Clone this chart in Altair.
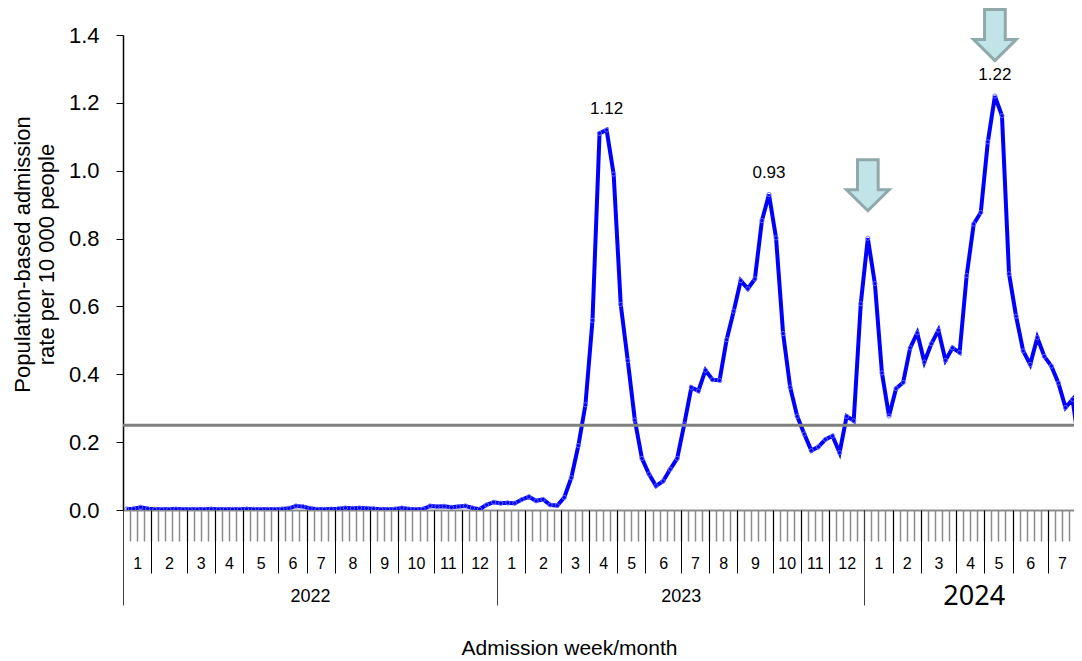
import json
import altair as alt
import pandas as pd

# ---------------- data ----------------
rate_2022 = [0.003, 0.004, 0.008, 0.004, 0.002, 0.002, 0.002, 0.003, 0.002, 0.002,
             0.002, 0.002, 0.003, 0.002, 0.002, 0.002, 0.002, 0.003, 0.002, 0.002,
             0.002, 0.002, 0.003, 0.005, 0.012, 0.010, 0.005, 0.002, 0.002, 0.003,
             0.004, 0.006, 0.005, 0.006, 0.005, 0.004, 0.002, 0.002, 0.003, 0.006,
             0.003, 0.002, 0.003, 0.012, 0.010, 0.011, 0.008, 0.010, 0.012, 0.006,
             0.002, 0.015, 0.023]
rate_2023 = [0.020, 0.021, 0.020, 0.031, 0.039, 0.027, 0.031, 0.015, 0.013, 0.037,
             0.095, 0.190, 0.310, 0.559, 1.110, 1.120, 0.990, 0.606, 0.440, 0.265,
             0.152, 0.106, 0.071, 0.085, 0.120, 0.152, 0.253, 0.361, 0.351, 0.412,
             0.384, 0.382, 0.502, 0.586, 0.676, 0.652, 0.681, 0.853, 0.930, 0.802,
             0.520, 0.362, 0.276, 0.224, 0.175, 0.186, 0.208, 0.218, 0.169, 0.276,
             0.263, 0.608]
rate_2024 = [0.801, 0.667, 0.404, 0.277, 0.358, 0.376, 0.478, 0.522, 0.436, 0.490,
             0.530, 0.441, 0.478, 0.464, 0.691, 0.843, 0.877, 1.085, 1.220, 1.162,
             0.696, 0.571, 0.469, 0.429, 0.508, 0.453, 0.424, 0.374, 0.302, 0.326,
             0.178]

weeks_per_month_2022 = [4, 5, 4, 4, 5, 4, 4, 5, 4, 5, 4, 5]
weeks_per_month_2023 = [4, 5, 4, 4, 4, 5, 4, 4, 5, 4, 4, 5]
weeks_per_month_2024 = [4, 4, 5, 4, 4, 5, 4, 1]
years = ["2022", "2023", "2024"]

peak_weeks = [68, 91, 123]
peak_labels = ["1.12", "0.93", "1.22"]
arrow_weeks = [105, 123]
threshold = [0.25]
y_ticks = [0.0, 0.2, 0.4, 0.6, 0.8, 1.0, 1.2, 1.4]

# ---------------- derived tables ----------------
rates = rate_2022 + rate_2023 + rate_2024
N = len(rates)
df = pd.DataFrame({"pos": [i + 0.5 for i in range(N)], "rate": rates})

PLOT_W = 951          # plot area runs to the right edge of the page
WEEK_PX = 7.06
X_END = PLOT_W / WEEK_PX   # the picture is cut off inside the last weeks

month_bounds, month_centers, month_labels = [], [], []
year_bounds, year_centers = [], []
start = 0
for counts in [weeks_per_month_2022, weeks_per_month_2023, weeks_per_month_2024]:
    year_bounds.append(start)
    ys = start
    for m, c in enumerate(counts):
        if start + c / 2 < X_END:
            month_centers.append(start + c / 2)
            month_labels.append(str(m + 1))
        start += c
        if start < X_END:
            month_bounds.append(start)
    year_centers.append((ys + start) / 2)
week_bounds = [w for w in range(1, N) if w < X_END]

peaks = pd.DataFrame({"pos": [w + 0.5 for w in peak_weeks],
                      "rate": [rates[w] for w in peak_weeks],
                      "label": peak_labels})
arrows = pd.DataFrame({"pos": [w + 0.5 for w in arrow_weeks],
                       "rate": [rates[w] for w in arrow_weeks]})
thr = pd.DataFrame({"rate": threshold})

FONT = "Liberation Sans"
xscale = alt.Scale(domain=[0, X_END], nice=False, zero=False)
yscale = alt.Scale(domain=[0, 1.4], nice=False, zero=True)

y_axis = alt.Axis(values=y_ticks, format=".1f", grid=False, orient="left",
                  labelFont=FONT, labelFontSize=22, labelColor="black", labelPadding=17,
                  tickSize=7, tickColor="black", domainColor="black", domainWidth=1.5,
                  title=["Population-based admission", "rate per 10 000 people"],
                  titleFont=FONT, titleFontSize=22, titleFontWeight="normal",
                  titleColor="black", titleX=-101, titleY=219,
                  titleBaseline="middle", titleLineHeight=24)


def Y():
    return alt.Y("rate:Q", scale=yscale, axis=y_axis)


def X_plain():
    return alt.X("pos:Q", scale=xscale, axis=None)


# ---------------- layers ----------------
line_x = alt.X(
    "pos:Q", scale=xscale,
    axis=alt.Axis(orient="bottom", values=week_bounds, labels=False, grid=False,
                  tickSize=31, tickColor="#8c8c8c", tickWidth=1.5,
                  domainColor="#8c8c8c", domainWidth=2,
                  title="Admission week/month", titleFont=FONT, titleFontSize=21,
                  titleFontWeight="normal", titleColor="black",
                  titleX=446, titleY=138, titleBaseline="middle"))

line = alt.Chart(df).mark_line(color="#0000ff", strokeWidth=4, clip=True).encode(
    x=line_x, y=Y())

rule = alt.Chart(thr).mark_rule(color="#808080", strokeWidth=3).encode(y=Y())

pts = alt.Chart(df).mark_point(size=18, color="#6f6fff", strokeWidth=1, filled=False,
                               opacity=0.9, clip=True).encode(x=X_plain(), y=Y())

month_tick_layer = alt.Chart(df).mark_point(opacity=0).encode(
    x=alt.X("pos:Q", scale=xscale,
            axis=alt.Axis(orient="bottom", values=month_bounds, labels=False, grid=False,
                          domain=False, tickSize=63, tickColor="black", tickWidth=1,
                          title=None)))

month_label_expr = (f"{json.dumps(month_labels)}"
                    f"[indexof({json.dumps(month_centers)}, datum.value)]")
month_label_layer = alt.Chart(df).mark_point(opacity=0).encode(
    x=alt.X("pos:Q", scale=xscale,
            axis=alt.Axis(orient="bottom", values=month_centers, ticks=False, tickSize=0,
                          domain=False, grid=False, labelExpr=month_label_expr,
                          labelFont=FONT, labelFontSize=16, labelColor="black",
                          labelBaseline="middle", labelPadding=53, labelOverlap=False,
                          labelFlush=False, title=None)))

year_tick_layer = alt.Chart(df).mark_point(opacity=0).encode(
    x=alt.X("pos:Q", scale=xscale,
            axis=alt.Axis(orient="bottom", values=year_bounds, labels=False, grid=False,
                          domain=False, tickSize=95, tickColor="#404040", tickWidth=1,
                          title=None)))

year_label_expr = (f"{json.dumps(years)}"
                   f"[indexof({json.dumps(year_centers)}, datum.value)]")
year_label_layer = alt.Chart(df).mark_point(opacity=0).encode(
    x=alt.X("pos:Q", scale=xscale,
            axis=alt.Axis(orient="bottom", values=year_centers, ticks=False, tickSize=0,
                          domain=False, grid=False, labelExpr=year_label_expr,
                          labelFont={"condition": {"test": "datum.value > 100", "value": "Noto Sans"},
                                     "value": FONT},
                          labelFontSize={"condition": {"test": "datum.value > 100", "value": 27},
                                         "value": 18},
                          labelColor="black", labelBaseline="middle", labelPadding=86,
                          labelOverlap=False, labelFlush=False, title=None)))

peak_text = alt.Chart(peaks).mark_text(font=FONT, fontSize=17, color="black",
                                       dy=-21, baseline="middle").encode(
    x=X_plain(), y=Y(), text="label:N")

ARROW = ("M -0.406 -1 L 0.406 -1 L 0.406 0.176 L 0.835 0.176 L 0 1 "
         "L -0.835 0.176 L -0.406 0.176 Z")
arrow_style = dict(shape=ARROW, size=2601, filled=True, fill="#c0e4e8",
                   stroke="#8fa8aa", strokeWidth=3, opacity=1, fillOpacity=1,
                   strokeOpacity=1)
arrow1 = alt.Chart(arrows.iloc[[0]]).mark_point(**arrow_style).encode(
    x=X_plain(), y=Y(), yOffset=alt.value(-53))
arrow2 = alt.Chart(arrows.iloc[[1]]).mark_point(**arrow_style).encode(
    x=X_plain(), y=Y(), yOffset=alt.value(-61))

chart = alt.layer(
    line, rule, pts, month_tick_layer, month_label_layer,
    year_tick_layer, year_label_layer, peak_text, arrow1, arrow2
).resolve_axis(x="independent", y="shared").properties(
    width=PLOT_W, height=475,
    autosize=alt.AutoSizeParams(type="none"),
    padding={"left": 115, "top": 27, "right": 0, "bottom": 156},
).configure_view(strokeWidth=0)

chart.save("out.html", embed_options={"renderer": "svg", "actions": False})
